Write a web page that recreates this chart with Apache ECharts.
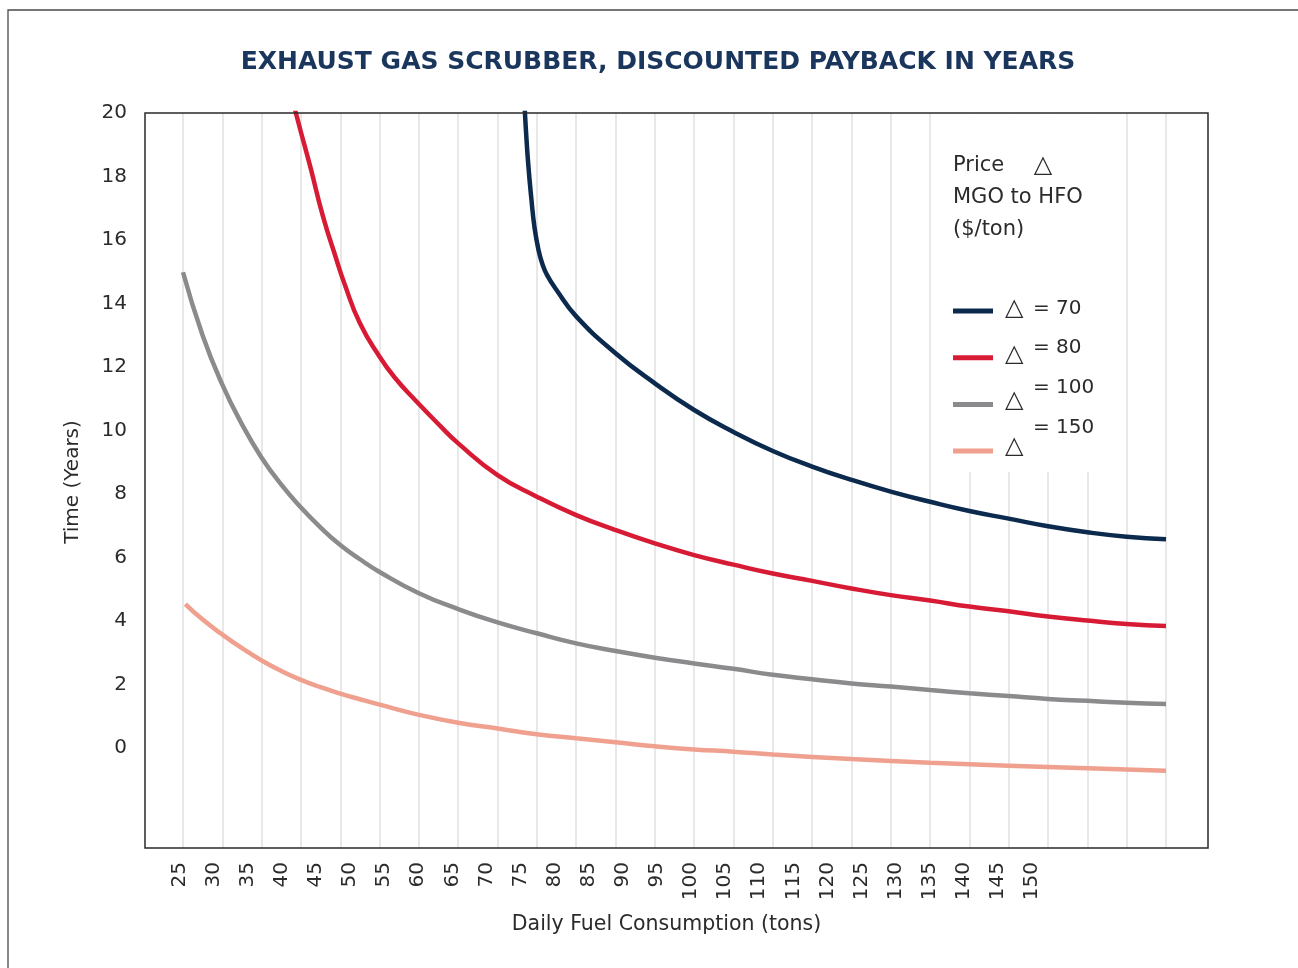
<!DOCTYPE html>
<html><head><meta charset="utf-8">
<script src="https://cdn.jsdelivr.net/npm/echarts@6/dist/echarts.min.js"></script>
<style>html,body{margin:0;padding:0;background:#fff}#c{width:1298px;height:968px}</style>
</head><body><div id="c"></div>
<script>
// ---- data ----
const seriesNames = ['△ = 70', '△ = 80', '△ = 100', '△ = 150'];
const seriesColors = ['#0b2a4d', '#d81b35', '#8b8b8d', '#f0a08f'];
const xTickLabels = [25,30,35,40,45,50,55,60,65,70,75,80,85,90,95,100,105,110,115,120,125,130,135,140,145,150];
const yTickLabels = [0,2,4,6,8,10,12,14,16,18,20];

const x70 = [68.4,68.6,68.9,69.3,69.7,70.2,70.7,71.3,72.5,75,80,85,90,95,100,105,110,115,120,125,130,135,140,145,150];
const y70 = [20.3,19.4,18.3,17.2,16.3,15.6,15.15,14.8,14.33,13.5,12.34,11.39,10.55,9.86,9.26,8.77,8.35,7.98,7.66,7.37,7.13,6.89,6.70,6.56,6.48];

const x80 = [39.2,40,41.2,42.8,44.5,45.5,47.5,50,52,54.3,57.7,60,65,70,75,80,85,90,95,100,105,110,115,120,125,130,135,140,145,150];
const y80 = [20.05,19.3,18.2,16.65,15.3,14.55,13.28,12.23,11.55,10.92,10.05,9.5,8.5,7.82,7.24,6.77,6.35,5.98,5.68,5.4,5.17,4.93,4.72,4.55,4.36,4.21,4.05,3.92,3.81,3.75];

const x100 = [25,27.5,30,32.5,35,37.5,40,42.5,45,47.5,50,55,60,65,70,75,80,85,90,95,100,105,110,115,120,125,130,135,140,145,150];
const y100 = [14.89,12.9,11.35,10.1,9.05,8.2,7.48,6.85,6.3,5.85,5.45,4.78,4.28,3.86,3.52,3.2,2.96,2.75,2.57,2.4,2.21,2.07,1.94,1.84,1.73,1.63,1.54,1.45,1.39,1.33,1.29];

const x150 = [25.3,27.5,30,32.5,35,37.5,40,42.5,45,47.5,50,55,60,65,70,75,80,85,90,95,100,110,120,130,140,150];
const y150 = [4.44,3.95,3.48,3.05,2.66,2.33,2.05,1.82,1.62,1.44,1.27,0.95,0.70,0.52,0.34,0.21,0.085,-0.04,-0.14,-0.21,-0.3,-0.44,-0.56,-0.65,-0.73,-0.81];

const seriesX = [x70, x80, x100, x150];
const seriesY = [y70, y80, y100, y150];

// ---- chart ----
const FONT = '"DejaVu Sans", sans-serif';
const TXT = '#2b2b2b';
const chart = echarts.init(document.getElementById('c'), null, {renderer: 'canvas'});

const series = seriesNames.map((n, i) => ({
  name: n, type: 'line', xAxisIndex: 2, yAxisIndex: 2,
  data: seriesX[i].map((x, j) => [x, seriesY[i][j]]),
  showSymbol: false, symbol: 'none', smooth: true,
  lineStyle: {color: seriesColors[i], width: 4.5},
  itemStyle: {color: seriesColors[i]},
  clip: true, z: 3
}));

chart.setOption({
  animation: false,
  backgroundColor: '#fff',
  graphic: [
    {type: 'rect', shape: {x: 8, y: 10, width: 1400, height: 1100}, style: {fill: 'none', stroke: '#4a4a4a', lineWidth: 1.3}, silent: true},
    {type: 'rect', z: 1, shape: {x: 935, y: 114, width: 175, height: 358}, style: {fill: '#fff', stroke: 'none'}, silent: true},
    {type: 'text', z: 2, x: 658, y: 62, style: {text: 'EXHAUST GAS SCRUBBER, DISCOUNTED PAYBACK IN YEARS', fill: '#1b365d', font: 'bold 25px "DejaVu Sans"', align: 'center', verticalAlign: 'middle'}},
    {type: 'text', z: 2, x: 953, y: 166, style: {text: 'Price', fill: TXT, font: '21px "DejaVu Sans"', align: 'left', verticalAlign: 'middle'}},
    {type: 'text', z: 2, x: 1043, y: 166, style: {text: '△', fill: TXT, font: '24px "DejaVu Sans"', align: 'center', verticalAlign: 'middle'}},
    {type: 'text', z: 2, x: 953, y: 198, style: {text: 'MGO to HFO', fill: TXT, font: '21px "DejaVu Sans"', align: 'left', verticalAlign: 'middle'}},
    {type: 'text', z: 2, x: 953, y: 230, style: {text: '($/ton)', fill: TXT, font: '21px "DejaVu Sans"', align: 'left', verticalAlign: 'middle'}}
  ],
  legend: [
    {
      data: seriesNames, orient: 'vertical', left: 953, top: 308.5, padding: 0,
      icon: 'rect', itemWidth: 40, itemHeight: 5, itemGap: 41.7,
      formatter: () => '',
      textStyle: {fontSize: 1, lineHeight: 1}
    },
    {
      data: seriesNames, orient: 'vertical', left: 1000, top: 296, padding: 0,
      icon: 'rect', itemWidth: 0, itemHeight: 0, itemGap: 20,
      formatter: n => n.split(' ')[0],
      textStyle: {fontFamily: FONT, fontSize: 24, lineHeight: 26, color: TXT}
    },
    {
      data: seriesNames, orient: 'vertical', left: 1028, top: 297.5, padding: 0,
      icon: 'rect', itemWidth: 0, itemHeight: 0, itemGap: 17.7,
      formatter: n => n.slice(2),
      textStyle: {fontFamily: FONT, fontSize: 20, lineHeight: 22, color: TXT}
    }
  ],
  grid: [
    {left: 145, right: 90, top: 113, bottom: 120, show: true, borderColor: '#2a2a2a', borderWidth: 1.5, backgroundColor: 'transparent', z: 4},
    {left: 145, right: 90, top: 113, bottom: 117},
    {left: 183, right: 132, top: 113, bottom: 120}
  ],
  xAxis: [
    {gridIndex: 0, type: 'value', min: 19.94, max: 175.8, position: 'bottom',
      axisLine: {show: false}, axisTick: {show: false}, splitLine: {show: false},
      axisLabel: {customValues: xTickLabels, rotate: 90, margin: 14, fontFamily: FONT, fontSize: 20, color: TXT},
      name: 'Daily Fuel Consumption (tons)', nameLocation: 'middle', nameGap: 66,
      nameTextStyle: {fontFamily: FONT, fontSize: 20.5, color: TXT, padding: [0, 20, 0, 0]}},
    {gridIndex: 1, type: 'value', min: 0, max: 1, show: false},
    {gridIndex: 2, type: 'value', min: 25, max: 150, interval: 5,
      axisLine: {show: false}, axisTick: {show: false}, axisLabel: {show: false},
      splitLine: {show: true, lineStyle: {color: '#e1e1e1', width: 1.5}}}
  ],
  yAxis: [
    {gridIndex: 0, type: 'value', min: 0, max: 1, show: false},
    {gridIndex: 1, type: 'value', min: -3.244, max: 20,
      axisLine: {show: false}, axisTick: {show: false}, splitLine: {show: false},
      axisLabel: {customValues: yTickLabels, margin: 18, fontFamily: FONT, fontSize: 20, color: TXT},
      name: 'Time (Years)', nameLocation: 'middle', nameGap: 62,
      nameTextStyle: {fontFamily: FONT, fontSize: 20, color: TXT}},
    {gridIndex: 2, type: 'value', min: -3.244, max: 19.905, show: false}
  ],
  series: series
});
</script></body></html>
